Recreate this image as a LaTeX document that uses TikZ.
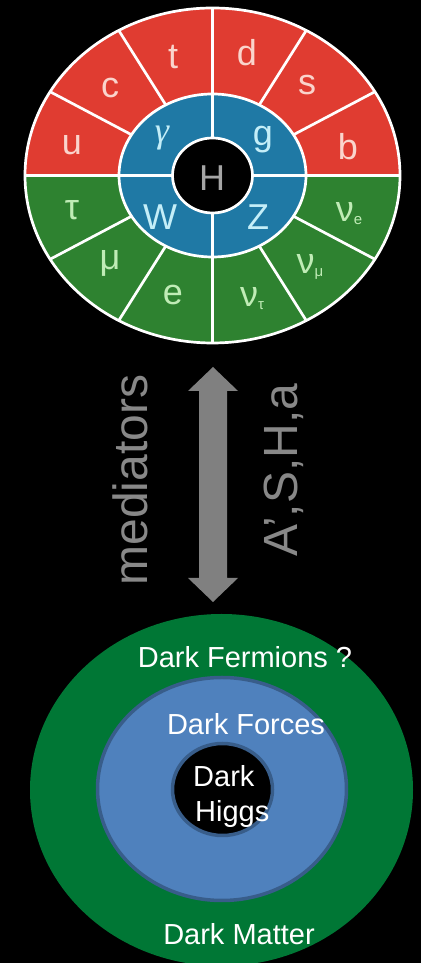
\documentclass[tikz,border=0pt]{standalone}
\usepackage{fontspec}
\setmainfont{Liberation Sans}
\newfontfamily\gfont{Liberation Serif}
\usetikzlibrary{calc}
\definecolor{smred}{RGB}{224,60,49}
\definecolor{smgreen}{RGB}{46,130,48}
\definecolor{smblue}{RGB}{31,121,165}
\definecolor{redtxt}{RGB}{250,212,204}
\definecolor{greentxt}{RGB}{192,236,182}
\definecolor{bluetxt}{RGB}{196,238,248}
\definecolor{htxt}{RGB}{165,165,165}
\definecolor{arrowgray}{RGB}{128,128,128}
\definecolor{medgray}{RGB}{136,136,136}
\definecolor{dkgreen}{RGB}{0,119,53}
\definecolor{dkblue}{RGB}{79,129,189}
\definecolor{dkedge}{RGB}{56,93,138}
\tikzset{
  lab/.style={font=\fontsize{36}{40}\selectfont, inner sep=0pt},
  redlab/.style={lab, text=redtxt},
  greenlab/.style={lab, text=greentxt},
  bluelab/.style={lab, text=bluetxt},
  side/.style={font=\fontsize{48}{52}\selectfont, text=medgray, rotate=90, anchor=base, inner sep=0pt},
  dark/.style={font=\fontsize{29}{33}\selectfont, text=white, inner sep=0pt},
  spoke/.style={white, line width=2.7pt}
}
\newcommand{\nusub}[1]{ν\raisebox{-3pt}{\fontsize{15}{15}\selectfont #1}}
\begin{document}
\begin{tikzpicture}[x=1pt,y=1pt]
\useasboundingbox (0,0) rectangle (421,963);
\clip (0,0) rectangle (421,963);
\fill[black] (0,0) rectangle (421,963);

% ---- Standard Model wheel ----
\coordinate (sm) at (212.5,787.5);
\def\RX{187.5}\def\RY{167.5}\def\rX{93.5}\def\rY{81.5}\def\hX{40}\def\hY{37.5}
\fill[smgreen] (sm) ellipse [x radius=\RX, y radius=\RY];
\fill[smred] ($(sm)+(\RX,0)$) arc[start angle=0, end angle=180, x radius=\RX, y radius=\RY] -- cycle;
\fill[smblue] (sm) ellipse [x radius=\rX, y radius=\rY];
\fill[black] (sm) ellipse [x radius=\hX, y radius=\hY];
\draw[spoke] (sm) ellipse [x radius=\RX, y radius=\RY];
\draw[spoke] (sm) ellipse [x radius=\rX, y radius=\rY];
\draw[spoke] (sm) ellipse [x radius=\hX, y radius=\hY];
\draw[spoke] ($(sm)+(-\RX,0)$) -- ($(sm)+(-\hX,0)$);
\draw[spoke] ($(sm)+(\hX,0)$) -- ($(sm)+(\RX,0)$);
\draw[spoke] ($(sm)+(0,\RY)$) -- ($(sm)+(0,\hY)$);
\draw[spoke] ($(sm)+(0,-\hY)$) -- ($(sm)+(0,-\RY)$);
\foreach \a in {30,60,120,150,210,240,300,330}
  \draw[spoke] ($(sm)+({\rX*cos(\a)},{\rY*sin(\a)})$) -- ($(sm)+({\RX*cos(\a)},{\RY*sin(\a)})$);

\node[redlab] (u) at (72,818) {u};
\node[redlab] (c) at (110,875) {c};
\node[redlab] (t) at (173,906) {t};
\node[redlab] (d) at (247,910) {d};
\node[redlab] (s) at (307,878) {s};
\node[redlab] (b) at (348,816) {b};
\node[bluelab] (gamma) at (162,825) {\gfont\itshape γ};
\node[bluelab] (g) at (263,823) {g};
\node[lab, text=htxt] (H) at (212,785) {H};
\node[bluelab] (W) at (160,746) {W};
\node[bluelab] (Z) at (258,746) {Z};
\node[greenlab] (tau) at (72,753) {τ};
\node[greenlab] (mu) at (110,700) {μ};
\node[greenlab] (e) at (173,668) {e};
\node[greenlab] (nut) at (252,664) {\nusub{τ}};
\node[greenlab] (num) at (310,696) {\nusub{μ}};
\node[greenlab] (nue) at (349,749) {\nusub{e}};

% ---- mediator arrow ----
\coordinate (atop) at (213,596);
\coordinate (abot) at (213,361);
\fill[arrowgray] (atop) -- ++(-25,-24) -- ++(11,0) -- (199,385) -- (188,385) -- (abot)
  -- (238,385) -- (227,385) -- (227,572) -- (238,572) -- cycle;
\node[side] (med) at (147,483) {mediators};
\node[side] (asha) at (297,493) {A’,S,H,a};

% ---- Dark sector ----
\coordinate (dm) at (221.5,173);
\fill[dkgreen] (dm) ellipse [x radius=191.5, y radius=176];
\filldraw[fill=dkblue, draw=dkedge, line width=3.5pt] (222,174) ellipse [x radius=124.5, y radius=111.5];
\filldraw[fill=black, draw=dkedge, line width=3.5pt] (222.5,173.5) ellipse [x radius=50, y radius=46];
\node[dark, anchor=base] (ferm) at (245,295) {Dark Fermions ?};
\node[dark, anchor=base] (forces) at (246,228) {Dark Forces};
\node[dark, anchor=base west] (dh1) at (193,176) {Dark};
\node[dark, anchor=base west] (dh2) at (195,141) {Higgs};
\node[dark, anchor=base] (matter) at (239,18) {Dark Matter};
\end{tikzpicture}
\end{document}
